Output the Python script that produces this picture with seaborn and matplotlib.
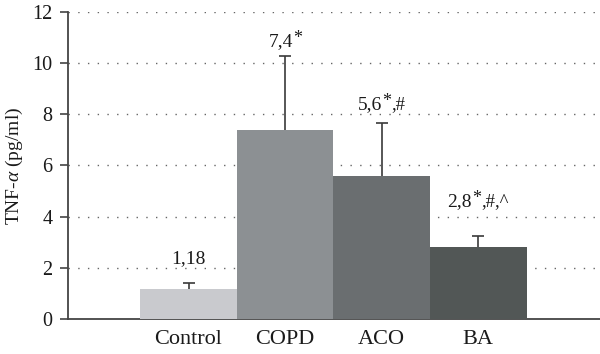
import matplotlib
matplotlib.use("Agg")
import matplotlib.pyplot as plt
import matplotlib.transforms as mtrans
import seaborn as sns
import numpy as np
import pandas as pd

groups = ["Control", "COPD", "ACO", "BA"]
means = [1.18, 7.4, 5.6, 2.8]
upper_err = [0.23, 2.9, 2.08, 0.45]
label_base = ["1,18", "7,4", "5,6", "2,8"]
label_sup = ["", "*", "*", "*"]
label_tail = ["", "", ",#", ",#,^"]
colors = ["#c9cace", "#8c9093", "#6a6e70", "#525756"]
yticks = [0, 2, 4, 6, 8, 10, 12]
label_offsets = [0.62, 0.2, 0.35, 1.0]

sns.set_theme(style="white")
plt.rcParams["font.family"] = ["Liberation Serif", "DejaVu Serif"]
plt.rcParams["mathtext.fontset"] = "custom"
plt.rcParams["mathtext.rm"] = "Liberation Serif"
plt.rcParams["mathtext.it"] = "Liberation Serif:italic"

fig = plt.figure(figsize=(6.0, 3.54), dpi=100)
ax = fig.add_axes([0.113, 0.099, 0.887, 0.867])

df = pd.DataFrame({"group": groups, "value": means})
sns.barplot(data=df, x="group", y="value", hue="group", palette=colors,
            width=1.0, legend=False, ax=ax, saturation=1, zorder=3,
            linewidth=0, edgecolor="none")

xs = np.arange(len(groups))
tops = np.array(means) + np.array(upper_err)
ax.vlines(xs, means, tops, color="#3a3a3a", lw=1.2, zorder=4)
ax.plot(xs, tops, ls="none", marker="_", ms=9, mew=1.2, color="#3a3a3a", zorder=4)

ax.set_ylim(0, 12)
ax.set_xlim(-1.25, 4.26)
ax.set_yticks(yticks)
ax.set_yticklabels([str(t) for t in yticks])
for t in yticks[1:]:
    ax.axhline(t, color="#666666", lw=1.0, ls=(0, (1, 6)), zorder=1)

for s in ["top", "right"]:
    ax.spines[s].set_visible(False)
for s in ["left", "bottom"]:
    ax.spines[s].set_color("#444444")
    ax.spines[s].set_linewidth(1.3)

ax.tick_params(axis="y", direction="out", length=6, width=1.2, color="#444444",
               pad=5, labelsize=14.5, labelcolor="#1a1a1a", left=True)
ax.tick_params(axis="x", length=0, pad=8, labelsize=16, labelcolor="#1a1a1a")
ax.set_xlabel("")
ax.set_ylabel(r"TNF-$\alpha$ (pg/ml)", fontsize=14, color="#1a1a1a", labelpad=5)

# value labels with raised asterisk
txt_kw = dict(color="#1a1a1a", zorder=5)
groups_txt = []
for x, t, b, s, tl, off in zip(xs, tops, label_base, label_sup, label_tail, label_offsets):
    t1 = ax.text(x, t + off, b, ha="left", va="bottom", fontsize=14, **txt_kw)
    parts = [t1]
    last = t1
    if s:
        t2 = ax.annotate(s, xy=(1, 0), xycoords=t1, xytext=(0.2, 2.5),
                         textcoords="offset points", ha="left", va="bottom",
                         fontsize=13, **txt_kw)
        parts.append(t2)
        last = t2
    if tl:
        t3 = ax.annotate(tl, xy=(1, 0), xycoords=last, xytext=(0.2, -2.3),
                         textcoords="offset points", ha="left", va="bottom",
                         fontsize=13.5, **txt_kw)
        parts.append(t3)
    groups_txt.append(parts)

fig.canvas.draw()
r = fig.canvas.get_renderer()
for parts in groups_txt:
    x0 = parts[0].get_window_extent(r).x0
    x1 = parts[-1].get_window_extent(r).x1
    w = (x1 - x0) / fig.dpi
    parts[0].set_transform(ax.transData + mtrans.ScaledTranslation(-w / 2, 0, fig.dpi_scale_trans))

fig.savefig("out.png", dpi=100)
